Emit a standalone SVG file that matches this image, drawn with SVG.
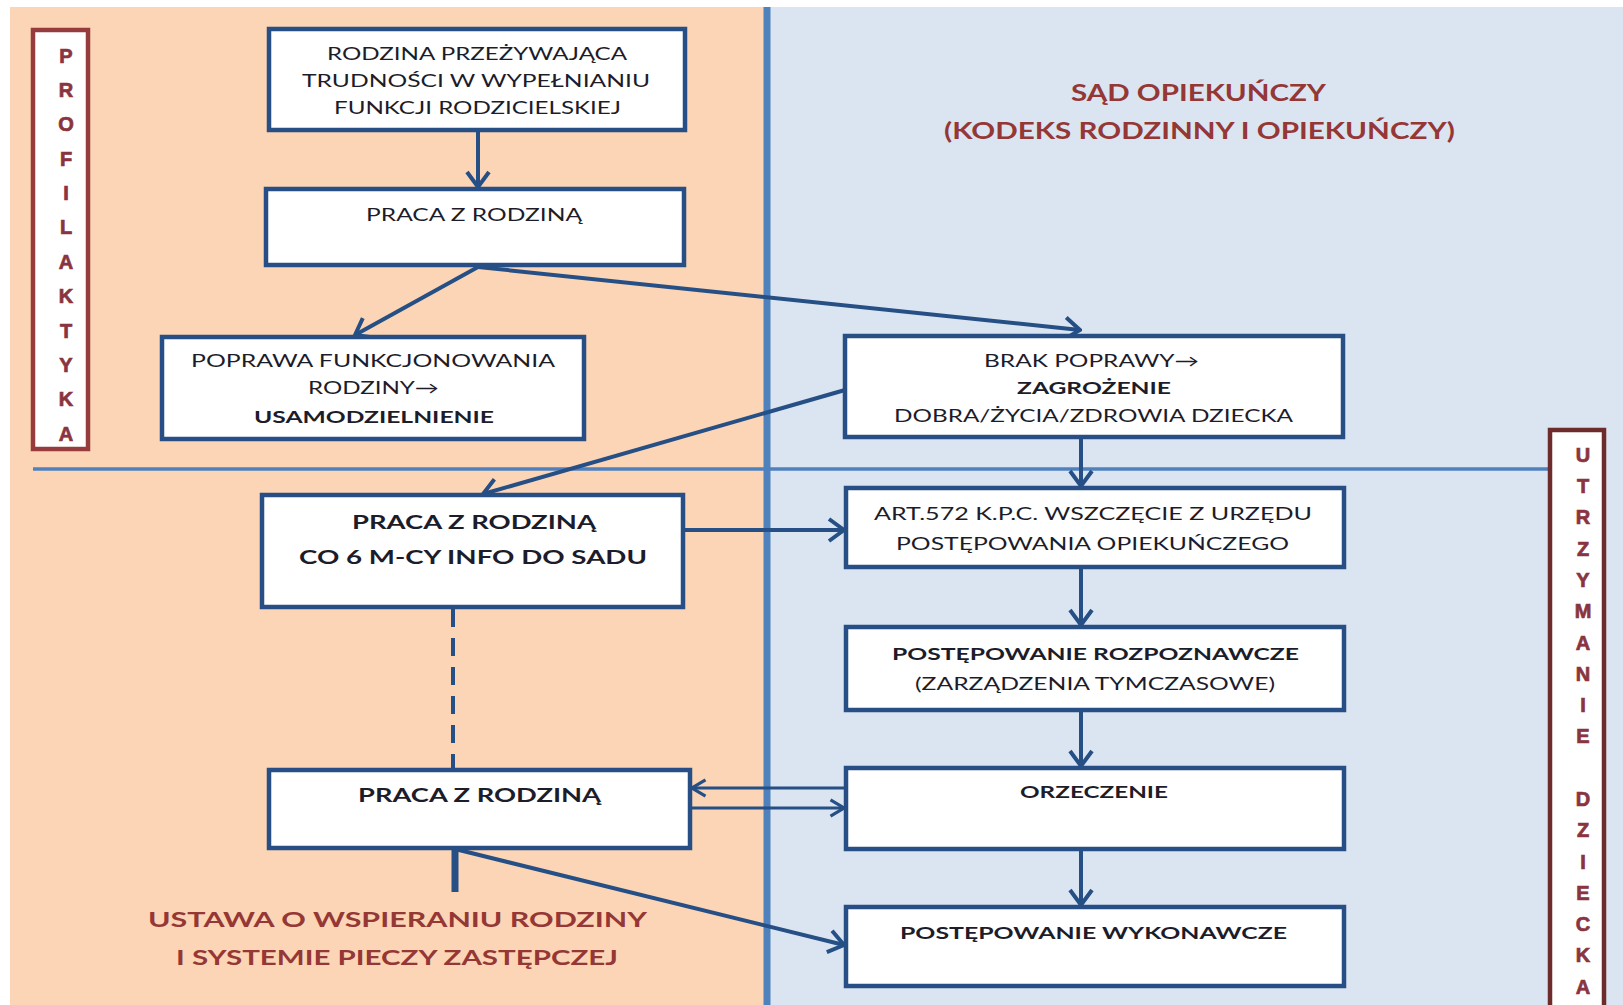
<svg xmlns="http://www.w3.org/2000/svg" width="1623" height="1005" viewBox="0 0 1623 1005">
<style>
.box{fill:#ffffff;stroke:#274f86;stroke-width:4.5}
.t{font-family:Lato,"Liberation Sans",sans-serif;font-size:17px;fill:#1c1c2a}
.b{font-weight:bold}
.big{font-size:19px}
.title{font-family:Lato,"Liberation Sans",sans-serif;font-weight:bold;fill:#953735}
.v{font-family:"Liberation Sans",Arial,sans-serif;font-weight:bold;font-size:20px;fill:#8a3440;stroke:#8a3440;stroke-width:0.7;text-anchor:middle}
.c{fill:none;stroke:#254f85;stroke-width:4}
.cs{fill:none;stroke:#254f85;stroke-width:3}
</style>
<defs>
<marker id="ah" viewBox="0 0 20 28" refX="18" refY="14" markerWidth="20" markerHeight="28" markerUnits="userSpaceOnUse" orient="auto">
<path d="M3,3 L18,14 L3,25" fill="none" stroke="#254f85" stroke-width="4"/>
</marker>
<marker id="ahs" viewBox="0 0 20 24" refX="18" refY="12" markerWidth="18" markerHeight="22" markerUnits="userSpaceOnUse" orient="auto">
<path d="M3,3 L18,12 L3,21" fill="none" stroke="#254f85" stroke-width="3.5"/>
</marker>
</defs>
<g id="background">
<rect x="0" y="0" width="1623" height="1005" fill="#ffffff"/>
<rect x="10" y="7" width="757" height="998" fill="#fbd5b5"/>
<rect x="767" y="7" width="856" height="998" fill="#dbe5f1"/>
<line x1="767" y1="7" x2="767" y2="1005" stroke="#4f81bd" stroke-width="7"/>
<line x1="33" y1="469" x2="1548" y2="469" stroke="#4f81bd" stroke-width="3.5"/>
</g>
<g id="profilaktyka">
<rect x="33" y="30" width="55" height="419" fill="#ffffff" stroke="#963c3c" stroke-width="4.5"/>
<text class="v" x="66" y="63">P</text>
<text class="v" x="66" y="97">R</text>
<text class="v" x="66" y="131">O</text>
<text class="v" x="66" y="166">F</text>
<text class="v" x="66" y="200">I</text>
<text class="v" x="66" y="234">L</text>
<text class="v" x="66" y="269">A</text>
<text class="v" x="66" y="303">K</text>
<text class="v" x="66" y="338">T</text>
<text class="v" x="66" y="372">Y</text>
<text class="v" x="66" y="406">K</text>
<text class="v" x="66" y="441">A</text>
</g>
<g id="utrzymanie">
<rect x="1550" y="430" width="54" height="580" fill="#ffffff" stroke="#6e2b2b" stroke-width="4.5"/>
<text class="v" x="1583" y="462">U</text>
<text class="v" x="1583" y="493">T</text>
<text class="v" x="1583" y="524">R</text>
<text class="v" x="1583" y="556">Z</text>
<text class="v" x="1583" y="587">Y</text>
<text class="v" x="1583" y="618">M</text>
<text class="v" x="1583" y="650">A</text>
<text class="v" x="1583" y="681">N</text>
<text class="v" x="1583" y="712">I</text>
<text class="v" x="1583" y="743">E</text>
<text class="v" x="1583" y="806">D</text>
<text class="v" x="1583" y="837">Z</text>
<text class="v" x="1583" y="869">I</text>
<text class="v" x="1583" y="900">E</text>
<text class="v" x="1583" y="931">C</text>
<text class="v" x="1583" y="962">K</text>
<text class="v" x="1583" y="994">A</text>
</g>
<g id="titles">
<text class="title" x="1071" y="101" font-size="23" textLength="255" lengthAdjust="spacingAndGlyphs">SĄD OPIEKUŃCZY</text>
<text class="title" x="944" y="139" font-size="23" textLength="511" lengthAdjust="spacingAndGlyphs">(KODEKS RODZINNY I OPIEKUŃCZY)</text>
<text class="title" x="148" y="927" font-size="21" textLength="499" lengthAdjust="spacingAndGlyphs">USTAWA O WSPIERANIU RODZINY</text>
<text class="title" x="176" y="965" font-size="21" textLength="442" lengthAdjust="spacingAndGlyphs">I SYSTEMIE PIECZY ZASTĘPCZEJ</text>
</g>
<g id="connectors">
<line class="c" x1="478" y1="132" x2="478" y2="187" marker-end="url(#ah)"/>
<line class="c" x1="478" y1="267" x2="355" y2="335" marker-end="url(#ah)"/>
<line class="c" x1="478" y1="267" x2="1080" y2="330" marker-end="url(#ah)"/>
<line class="c" x1="845" y1="390" x2="483" y2="494" marker-end="url(#ah)"/>
<line class="c" x1="1081" y1="439" x2="1081" y2="486" marker-end="url(#ah)"/>
<line class="c" x1="685" y1="530" x2="844" y2="530" marker-end="url(#ah)"/>
<line class="c" x1="1081" y1="569" x2="1081" y2="625" marker-end="url(#ah)"/>
<line class="c" x1="1081" y1="712" x2="1081" y2="766" marker-end="url(#ah)"/>
<line class="c" x1="1081" y1="851" x2="1081" y2="905" marker-end="url(#ah)"/>
<line class="cs" x1="846" y1="788" x2="692" y2="788" marker-end="url(#ahs)"/>
<line class="cs" x1="692" y1="808" x2="844" y2="808" marker-end="url(#ahs)"/>
<line class="c" x1="455" y1="849" x2="844" y2="945" marker-end="url(#ah)"/>
<line class="c" x1="453" y1="609" x2="453" y2="768" stroke-dasharray="18 11"/>
<line x1="455" y1="849" x2="455" y2="892" stroke="#254f85" stroke-width="7"/>
</g>
<g id="n1">
<rect class="box" x="269" y="29" width="416" height="101"/>
<text class="t" x="327" y="60" textLength="300" lengthAdjust="spacingAndGlyphs">RODZINA PRZEŻYWAJĄCA</text>
<text class="t" x="302" y="87" textLength="348" lengthAdjust="spacingAndGlyphs">TRUDNOŚCI W WYPEŁNIANIU</text>
<text class="t" x="334" y="114" textLength="287" lengthAdjust="spacingAndGlyphs">FUNKCJI RODZICIELSKIEJ</text>
</g>
<g id="n2">
<rect class="box" x="266" y="189" width="418" height="76"/>
<text class="t" x="366" y="221" textLength="216" lengthAdjust="spacingAndGlyphs">PRACA Z RODZINĄ</text>
</g>
<g id="n3">
<rect class="box" x="162" y="337" width="422" height="102"/>
<text class="t" x="191" y="367" textLength="364" lengthAdjust="spacingAndGlyphs">POPRAWA FUNKCJONOWANIA</text>
<text class="t" x="308" y="394" textLength="131" lengthAdjust="spacingAndGlyphs">RODZINY→</text>
<text class="t b" x="254" y="423" textLength="240" lengthAdjust="spacingAndGlyphs">USAMODZIELNIENIE</text>
</g>
<g id="n4">
<rect class="box" x="845" y="336" width="498" height="101"/>
<text class="t" x="984" y="367" textLength="215" lengthAdjust="spacingAndGlyphs">BRAK POPRAWY→</text>
<text class="t b" x="1017" y="394" textLength="154" lengthAdjust="spacingAndGlyphs">ZAGROŻENIE</text>
<text class="t" x="894" y="422" textLength="399" lengthAdjust="spacingAndGlyphs">DOBRA/ŻYCIA/ZDROWIA DZIECKA</text>
</g>
<g id="n5">
<rect class="box" x="262" y="495" width="421" height="112"/>
<text class="t b big" x="352" y="529" textLength="244" lengthAdjust="spacingAndGlyphs">PRACA Z RODZINĄ</text>
<text class="t b big" x="299" y="564" textLength="348" lengthAdjust="spacingAndGlyphs">CO 6 M-CY INFO DO SADU</text>
</g>
<g id="n6">
<rect class="box" x="846" y="488" width="498" height="79"/>
<text class="t" x="874" y="520" textLength="438" lengthAdjust="spacingAndGlyphs">ART.572 K.P.C. WSZCZĘCIE Z URZĘDU</text>
<text class="t" x="896" y="550" textLength="393" lengthAdjust="spacingAndGlyphs">POSTĘPOWANIA OPIEKUŃCZEGO</text>
</g>
<g id="n7">
<rect class="box" x="846" y="627" width="498" height="83"/>
<text class="t b" x="892" y="660" textLength="407" lengthAdjust="spacingAndGlyphs">POSTĘPOWANIE ROZPOZNAWCZE</text>
<text class="t" x="915" y="690" textLength="360" lengthAdjust="spacingAndGlyphs">(ZARZĄDZENIA TYMCZASOWE)</text>
</g>
<g id="n8">
<rect class="box" x="269" y="770" width="421" height="78"/>
<text class="t b big" x="358" y="802" textLength="243" lengthAdjust="spacingAndGlyphs">PRACA Z RODZINĄ</text>
</g>
<g id="n9">
<rect class="box" x="846" y="768" width="498" height="81"/>
<text class="t b" x="1020" y="798" textLength="148" lengthAdjust="spacingAndGlyphs">ORZECZENIE</text>
</g>
<g id="n10">
<rect class="box" x="846" y="907" width="498" height="79"/>
<text class="t b" x="900" y="939" textLength="387" lengthAdjust="spacingAndGlyphs">POSTĘPOWANIE WYKONAWCZE</text>
</g>
</svg>
